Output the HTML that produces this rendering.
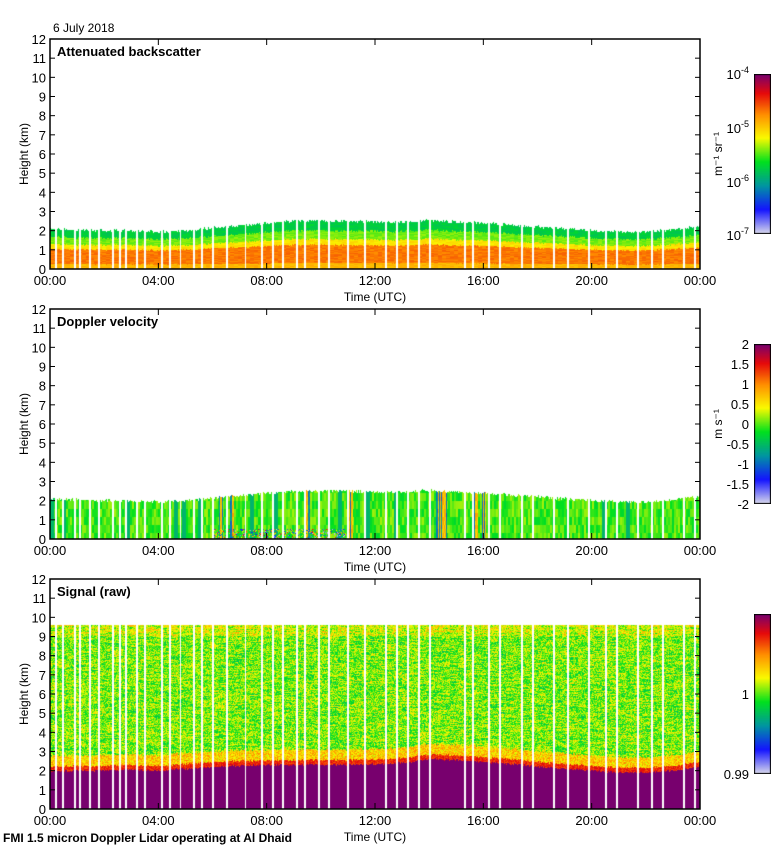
<!DOCTYPE html>
<html><head><meta charset="utf-8">
<style>
body{margin:0;background:#fff;width:780px;height:850px;overflow:hidden;position:relative;font-family:"Liberation Sans",sans-serif}
canvas{position:absolute}
svg{position:absolute;left:0;top:0}
</style></head>
<body>
<canvas id="c1" width="650" height="230" style="left:50px;top:39px"></canvas>
<canvas id="c2" width="650" height="230" style="left:50px;top:309px"></canvas>
<canvas id="c3" width="650" height="230" style="left:50px;top:579px"></canvas>
<canvas id="cb1" width="17" height="160" style="left:754px;top:74px"></canvas>
<canvas id="cb2" width="17" height="160" style="left:754px;top:344px"></canvas>
<canvas id="cb3" width="17" height="160" style="left:754px;top:614px"></canvas>
<svg id="ov" width="780" height="850" font-family="Liberation Sans, sans-serif" font-size="12"></svg>
<script>
// ---- data ----
const hours = [0,1,2,3,4,5,6,7,8,9,10,11,12,13,14,15,16,17,18,19,20,21,22,23,24];
const blTop = [2.1,2.05,2.0,2.0,1.95,2.0,2.15,2.25,2.4,2.5,2.5,2.5,2.45,2.45,2.55,2.45,2.4,2.3,2.2,2.1,2.0,1.95,1.95,2.05,2.25];
const sigTop = [1.95,2.0,2.0,2.05,2.0,2.1,2.2,2.25,2.3,2.3,2.3,2.3,2.35,2.4,2.6,2.55,2.45,2.35,2.2,2.1,2.0,1.9,1.9,2.0,2.2];
const gaps = [0.2,0.45,0.9,1.1,1.45,1.8,2.3,2.55,2.8,3.2,3.5,4.1,4.4,4.8,5.3,5.6,6.0,6.5,7.2,7.8,8.2,8.6,9.1,9.4,9.9,10.3,11.0,11.6,12.4,12.8,13.2,13.6,14.0,15.3,15.6,16.2,16.6,17.4,17.8,18.6,19.1,19.9,20.5,20.9,21.7,22.2,22.6,23.4,23.8];
const timeTicks = ["00:00","04:00","08:00","12:00","16:00","20:00","00:00"];
const dopplerTicks = ["2","1.5","1","0.5","0","-0.5","-1","-1.5","-2"];
const dopplerStreaks = [6.3,6.7,9.5,11.1,14.3,14.45,14.55,15.7,16.0];
const sigRange = 9.6;

const X0=50,W=650,H=230,KM=H/12;
const xOf=t=>t/24*W, yOf=z=>H-z*KM;
function interp(arr,t){const i=Math.min(23,Math.floor(t));const f=t-i;return arr[i]*(1-f)+arr[i+1]*f;}
function hash(a,b){let h=(a*374761393+b*668265263)^0x5bd1e995;h=(h^(h>>>13))*1274126177;h^=h>>>16;return ((h>>>0)%10000)/10000;}
const stops=[[0,[215,215,235]],[0.15,[20,20,255]],[0.3,[0,150,160]],[0.45,[0,225,30]],[0.6,[250,250,0]],[0.75,[255,140,0]],[0.88,[230,10,10]],[1,[120,0,110]]];
function cmap(v){v=Math.max(0,Math.min(1,v));for(let i=1;i<stops.length;i++){if(v<=stops[i][0]){const a=stops[i-1],b=stops[i];const f=(v-a[0])/(b[0]-a[0]);return [0,1,2].map(k=>Math.round(a[1][k]+(b[1][k]-a[1][k])*f));}}return stops[stops.length-1][1];}
function isGap(c){return gaps.some(g=>Math.abs(xOf(g)-c)<1);}
function draw(id,fn){const cv=document.getElementById(id),ctx=cv.getContext('2d');const im=ctx.createImageData(W,H);
 for(let c=0;c<W;c++){const t=c/W*24;const gap=isGap(c);for(let r=0;r<H;r++){const z=(H-r-0.5)/KM;let col=gap?null:fn(t,z,c,r);const p=(r*W+c)*4;if(!col){im.data[p]=im.data[p+1]=im.data[p+2]=im.data[p+3]=255;continue;}im.data[p]=col[0];im.data[p+1]=col[1];im.data[p+2]=col[2];im.data[p+3]=255;}}
 ctx.putImageData(im,0,0);}
draw('c1',(t,z,c,r)=>{const Ht=interp(blTop,t)+(hash(c,7)-0.5)*0.15;if(z>Ht)return null;const f=z/Ht;let v;
 if(f<0.12)v=0.69;else if(f<0.5)v=0.77;else if(f<0.62)v=0.63;else if(f<0.8)v=0.52;else v=0.41;
 return cmap(v+(hash(c>>2,r)-0.5)*0.05);});
draw('c2',(t,z,c,r)=>{const Ht=interp(blTop,t)+(hash(c,9)-0.5)*0.15;if(z>Ht)return null;let v=0.49+(hash(c>>1,r>>3)-0.5)*0.12;
 if(dopplerStreaks.some(s=>Math.abs(s-t)<0.08))v=(hash(c,3)>0.5?0.28:0.68)+(hash(c,r>>2)-0.5)*0.1;
 else if(hash(c>>2,11)>0.93)v=0.36;
 if(z<0.5&&t>6&&t<11&&hash(c,r)>0.6)v=hash(r,c)*0.9;return cmap(v);});
draw('c3',(t,z,c,r)=>{if(z>sigRange)return null;const Ht=interp(sigTop,t)+(hash(c,5)-0.5)*0.1;if(z<Ht)return [120,0,110];
 let v;if(z<Ht+0.25)v=0.85+(hash(c,r)-0.5)*0.1;else if(z<Ht+0.8)v=0.66+(hash(c,r)-0.5)*0.2;
 else v=0.52+(hash(c,r)-0.5)*0.2+(hash(c>>3,r)-0.5)*0.12; if(z>9.0)v+=0.06;return cmap(v);});
['cb1','cb2','cb3'].forEach(id=>{const ctx=document.getElementById(id).getContext('2d');for(let r=0;r<160;r++){const col=cmap(1-r/159);ctx.fillStyle=`rgb(${col})`;ctx.fillRect(0,r,17,1);}ctx.strokeStyle='#000';ctx.strokeRect(0.5,0.5,16,159);});

// ---- axes ----
const ov=document.getElementById('ov');const NS='http://www.w3.org/2000/svg';
function el(tag,attrs,txt){const e=document.createElementNS(NS,tag);for(const k in attrs)e.setAttribute(k,attrs[k]);if(txt!==undefined)e.textContent=txt;ov.appendChild(e);return e;}
const panels=[{top:39,title:'Attenuated backscatter'},{top:309,title:'Doppler velocity'},{top:579,title:'Signal (raw)'}];
panels.forEach((p,i)=>{
 const fr=el('rect',{x:X0,y:p.top,width:W,height:H,fill:'none',stroke:'#000','stroke-width':1.5});
 
 
 for(let k=0;k<=12;k++){const y=p.top+yOf(k);
  el('line',{x1:X0,x2:X0+5,y1:y,y2:y,stroke:'#000'});el('line',{x1:X0+W-5,x2:X0+W,y1:y,y2:y,stroke:'#000'});
  const tl=el('text',{x:X0-4,y:y+5,'text-anchor':'end','font-size':13},String(k));
  
  }
 timeTicks.forEach((lab,j)=>{const x=X0+xOf(j*4);el('line',{x1:x,x2:x,y1:p.top+H,y2:p.top+H-6,stroke:'#000'});el('line',{x1:x,x2:x,y1:p.top,y2:p.top+6,stroke:'#000'});
  const tl=el('text',{x:x,y:p.top+H+16,'text-anchor':'middle','font-size':13},lab);
  
  });
 const xt=el('text',{x:375,y:p.top+H+32,'text-anchor':'middle'},'Time (UTC)');
 
 
 const yt=el('text',{x:0,y:0,'text-anchor':'middle',transform:`translate(28,${p.top+H/2}) rotate(-90)`},'Height (km)');
 
 
 const tt=el('text',{x:57,y:p.top+17,'font-weight':'bold','font-size':13},p.title);
 
 
});
const d=el('text',{x:53,y:32},'6 July 2018');


const ft=el('text',{x:3,y:842,'font-weight':'bold'},'FMI 1.5 micron Doppler Lidar operating at Al Dhaid');


[['-4',74],['-5',128],['-6',182],['-7',235]].forEach(([e,y])=>{const t=el('text',{x:749,y:y+5,'text-anchor':'end','font-size':13},'10');const s=document.createElementNS(NS,'tspan');s.setAttribute('dy','-6');s.setAttribute('font-size','9');s.textContent=e;t.appendChild(s);
 
 });
const u1=el('text',{x:0,y:0,'text-anchor':'middle',transform:'translate(722,154) rotate(-90)'},'m⁻¹ sr⁻¹');


dopplerTicks.forEach((lab,j)=>{const t=el('text',{x:749,y:344+j*20+5,'text-anchor':'end','font-size':13},lab);
 
 });
const u2=el('text',{x:0,y:0,'text-anchor':'middle',transform:'translate(722,424) rotate(-90)'},'m s⁻¹');


[['1',694],['0.99',774]].forEach(([lab,y])=>{const t=el('text',{x:749,y:y+5,'text-anchor':'end','font-size':13},lab);
 
 });
</script>
</body></html>
